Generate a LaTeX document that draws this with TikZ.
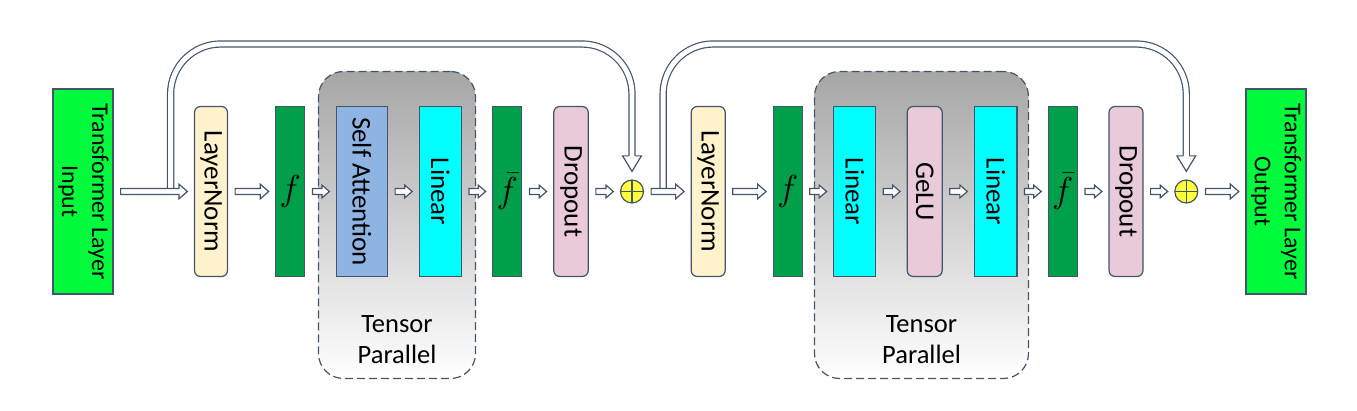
\documentclass[tikz,border=0pt]{standalone}
\usepackage{fontspec}
\setmainfont{Carlito}
\usetikzlibrary{calc}
\definecolor{edge}{RGB}{68,84,106}
\definecolor{iogreen}{RGB}{0,250,60}
\definecolor{gatec}{RGB}{0,160,74}
\definecolor{normc}{RGB}{255,242,204}
\definecolor{attnc}{RGB}{142,180,227}
\definecolor{linc}{RGB}{0,255,255}
\definecolor{dropc}{RGB}{232,202,216}
\definecolor{addc}{RGB}{255,255,60}
\newcommand{\gatef}[1]{\scalebox{1.45}{$#1$}}
\tikzset{
  harrow/.style n args={3}{draw=edge, fill=white, line width=1.2pt,
    to path={let \p1=(\tikztostart), \p2=(\tikztotarget) in
      (\x1,\y1-#1) -- (\x2-#3,\y1-#1) -- (\x2-#3,\y1-#2) -- (\x2,\y1)
      -- (\x2-#3,\y1+#2) -- (\x2-#3,\y1+#1) -- (\x1,\y1+#1) -- cycle}},
  longarrow/.style={harrow={3.05pt}{7.4pt}{8.5pt}},
  shortarrow/.style={harrow={3.05pt}{6.4pt}{7.5pt}},
  skipline/.style={draw=edge, line width=1.2pt, double=white, double distance=4.9pt, rounded corners=50pt},
  skiphead/.style={draw=edge, fill=white, line width=1.2pt,
    to path={let \p1=(\tikztostart), \p2=(\tikztotarget) in
      (\x1-3.05pt,\y1) -- (\x1-9.4pt,\y1) -- (\x2,\y2) -- (\x1+9.4pt,\y1) -- (\x1+3.05pt,\y1)}}
}
\begin{document}
\begin{tikzpicture}[x=1pt, y=-1pt,
  block/.style={draw=edge, line width=1.2pt, inner sep=0pt, minimum height=170pt, font=\fontsize{27}{32}\selectfont},
  iobox/.style={block, fill=iogreen, minimum width=59pt, minimum height=205pt, font=\fontsize{24}{30}\selectfont},
  normbox/.style={block, fill=normc, rounded corners=6pt},
  gatebox/.style={block, fill=gatec, minimum width=29pt, font=\Huge},
  attnbox/.style={block, fill=attnc},
  linbox/.style={block, fill=linc, minimum width=42pt},
  dropbox/.style={block, fill=dropc, rounded corners=6pt},
  addop/.style={circle, draw=edge, fill=addc, line width=1.2pt, minimum size=23pt, inner sep=0pt,
    path picture={\draw[edge, line width=1.2pt] (path picture bounding box.north) -- (path picture bounding box.south)
      (path picture bounding box.west) -- (path picture bounding box.east);}},
  tpbox/.style={draw=edge, line width=1.2pt, dash pattern=on 8pt off 4pt, rounded corners=25pt,
    top color=black!35, bottom color=white, minimum height=307pt},
  tplabel/.style={align=center, font=\fontsize{26.5}{31.5}\selectfont}]
\useasboundingbox (0,0) rectangle (1357,411);
% tensor parallel regions
\node[tpbox, minimum width=157pt] (tp1) at (397,225) {};
\node[tpbox, minimum width=214pt] (tp2) at (921.5,225) {};
\node[tplabel] (tp1lab) at ([yshift=39.5pt]tp1.south) {Tensor\\Parallel};
\node[tplabel] (tp2lab) at ([yshift=39.5pt]tp2.south) {Tensor\\Parallel};
% residual paths
\coordinate (top) at (0,44);
\node[addop] (add1) at (632,191.5) {};
\node[addop] (add2) at (1186.3,191.5) {};
\node[iobox] (in) at (83,191.5) {\rotatebox{-90}{\begin{tabular}{@{}c@{}}Transformer Layer\\Input\end{tabular}}};
\coordinate (br1) at ([xshift=57pt]in.east);
\coordinate (br2) at ([xshift=19pt]add1.east);
\draw[skipline] (br1) -- (br1 |- top) -- (add1 |- top) -- ([yshift=23.5pt]add1.north);
\draw[skiphead] ([yshift=23.5pt]add1.north) to ([yshift=8pt]add1.north);
\draw[skipline] (br2) -- (br2 |- top) -- (add2 |- top) -- ([yshift=23.5pt]add2.north);
\draw[skiphead] ([yshift=23.5pt]add2.north) to ([yshift=8pt]add2.north);
% blocks
\node[normbox, minimum width=33pt] (ln1) at (211,191.5) {\rotatebox{-90}{LayerNorm}};
\node[gatebox] (f1) at (290.3,191.5) {\gatef{f}};
\node[attnbox, minimum width=51pt] (sa) at (362,191.5) {\rotatebox{-90}{Self Attention}};
\node[linbox] (lin1) at (440.3,191.5) {\rotatebox{-90}{Linear}};
\node[gatebox] (fb1) at (507.3,191.5) {\gatef{\bar{f}}};
\node[dropbox, minimum width=34.5pt] (drop1) at (571,191.5) {\rotatebox{-90}{Dropout}};
\node[normbox, minimum width=34pt] (ln2) at (708.2,191.5) {\rotatebox{-90}{LayerNorm}};
\node[gatebox] (f2) at (787.7,191.5) {\gatef{f}};
\node[linbox] (lin2) at (854.7,191.5) {\rotatebox{-90}{Linear}};
\node[dropbox, minimum width=35pt] (gelu) at (924.7,191.5) {\rotatebox{-90}{GeLU}};
\node[linbox, minimum width=42.5pt] (lin3) at (995.7,191.5) {\rotatebox{-90}{Linear}};
\node[gatebox] (fb2) at (1062.8,191.5) {\gatef{\bar{f}}};
\node[dropbox, minimum width=34pt] (drop2) at (1126,191.5) {\rotatebox{-90}{Dropout}};
\node[iobox] (out) at (1275.9,191.5) {\rotatebox{-90}{\begin{tabular}{@{}c@{}}Transformer Layer\\Output\end{tabular}}};
% arrows
\foreach \a/\b in {in/ln1, ln1/f1, add1/ln2, ln2/f2, add2/out}
  \draw[longarrow] ([xshift=7pt]\a.east) to ([xshift=-6.5pt]\b.west);
\foreach \a/\b in {f1/sa, sa/lin1, lin1/fb1, fb1/drop1, drop1/add1, f2/lin2, lin2/gelu, gelu/lin3, lin3/fb2, fb2/drop2, drop2/add2}
  \draw[shortarrow] ([xshift=7pt]\a.east) to ([xshift=-6.5pt]\b.west);
\end{tikzpicture}
\end{document}
